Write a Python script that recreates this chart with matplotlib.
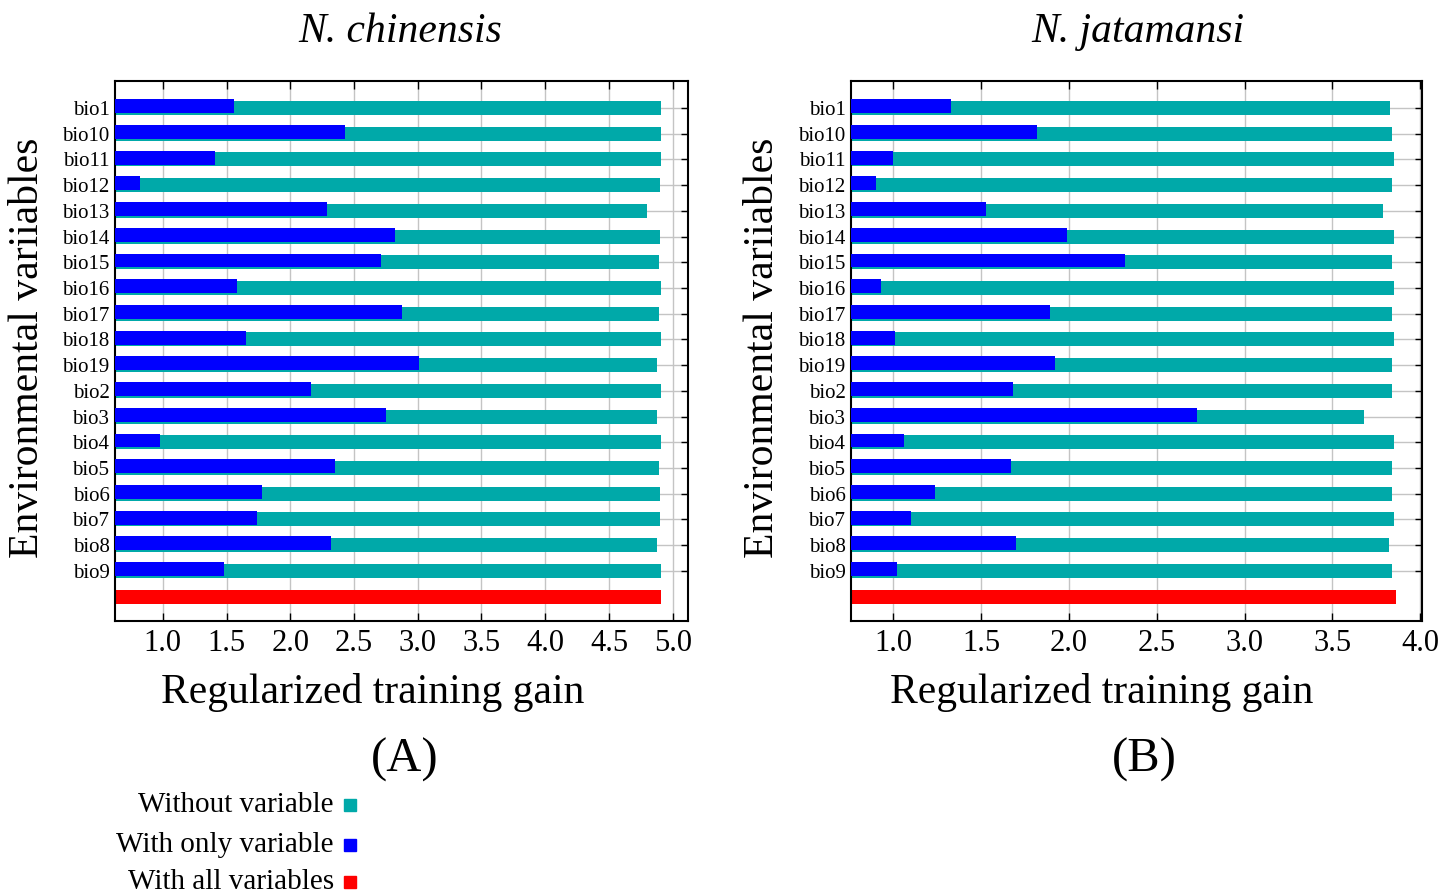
import matplotlib
matplotlib.use("Agg")
import matplotlib.pyplot as plt
from matplotlib.patches import Rectangle

plt.rcParams['font.family'] = ['Liberation Serif', 'DejaVu Serif']

# variables, top to bottom
variables = ["bio1", "bio10", "bio11", "bio12", "bio13", "bio14", "bio15", "bio16",
             "bio17", "bio18", "bio19", "bio2", "bio3", "bio4", "bio5", "bio6",
             "bio7", "bio8", "bio9"]

# (A) N. chinensis
chin_without = [4.91, 4.91, 4.91, 4.90, 4.80, 4.90, 4.89, 4.91, 4.89, 4.91,
                4.88, 4.91, 4.88, 4.91, 4.89, 4.90, 4.90, 4.88, 4.91]
chin_only = [1.56, 2.43, 1.41, 0.82, 2.29, 2.82, 2.71, 1.58, 2.88, 1.65,
             3.01, 2.16, 2.75, 0.98, 2.35, 1.78, 1.74, 2.32, 1.48]
chin_all = 4.91

# (B) N. jatamansi
jata_without = [3.83, 3.84, 3.85, 3.84, 3.79, 3.85, 3.84, 3.85, 3.84, 3.85,
                3.84, 3.84, 3.68, 3.85, 3.84, 3.84, 3.85, 3.82, 3.84]
jata_only = [1.33, 1.82, 1.00, 0.90, 1.53, 1.99, 2.32, 0.93, 1.89, 1.01,
             1.92, 1.68, 2.73, 1.06, 1.67, 1.24, 1.10, 1.70, 1.02]
jata_all = 3.86

TEAL = "#00a9a9"
BLUE = "#0000ff"
RED = "#ff0000"

W, H = 1456, 894
fig = plt.figure(figsize=(W / 100, H / 100), dpi=100)


def draw_panel(rect, without, only, allv, xlim, xticks, title, letter, ylab_x,
               title_x, xlab_x, letter_x):
    ax = fig.add_axes(rect)
    n = len(variables)
    ys = list(range(n))
    ax.barh(ys, without, height=0.54, color=TEAL, zorder=2)
    ax.barh([y - 0.07 for y in ys], only, height=0.54, color=BLUE, zorder=3)
    ax.barh([n], [allv], height=0.54, color=RED, zorder=2)
    ax.set_yticks(ys)
    ax.set_yticklabels(variables, fontsize=15)
    ax.set_ylim(n + 0.95, -1.05)
    ax.set_xlim(*xlim)
    ax.set_xticks(xticks)
    ax.set_xticklabels([f"{t:.1f}" for t in xticks], fontsize=22)
    ax.grid(True, color="#c4c4c4", lw=1, zorder=0)
    ax.set_axisbelow(True)
    ax.tick_params(direction="in", top=True, right=True, length=6, width=1, pad=6)
    ax.tick_params(axis="y", pad=4, length=5)
    for s in ax.spines.values():
        s.set_linewidth(1.5)
    fig.text(title_x / W, 1 - 32 / H, title, ha="center", va="center", fontsize=30,
             style="italic")
    fig.text(xlab_x / W, 1 - 692 / H, "Regularized training gain", ha="center",
             va="center", fontsize=30)
    fig.text(letter_x / W, 1 - 760 / H, letter, ha="center", va="center", fontsize=35)
    fig.text(ylab_x / W, 1 - 348 / H, "Environmental variiables", ha="center",
             va="center", rotation=90, fontsize=30)
    return ax


draw_panel([115 / W, 1 - 621 / H, 573 / W, 540 / H], chin_without, chin_only, chin_all,
           (0.625, 5.12), [1.0, 1.5, 2.0, 2.5, 3.0, 3.5, 4.0, 4.5, 5.0],
           "N. chinensis", "(A)", 28, 400, 373, 405)
draw_panel([851 / W, 1 - 621 / H, 571 / W, 540 / H], jata_without, jata_only, jata_all,
           (0.76, 4.01), [1.0, 1.5, 2.0, 2.5, 3.0, 3.5, 4.0],
           "N. jatamansi", "(B)", 763, 1138, 1102, 1144)

# legend
legend_items = [("Without variable", TEAL, 805), ("With only variable", BLUE, 845),
                ("With all variables", RED, 882)]
for label, col, ypx in legend_items:
    fig.text(334 / W, 1 - ypx / H, label, ha="right", va="center", fontsize=21)
    fig.add_artist(Rectangle((344 / W, 1 - (ypx + 6) / H), 12 / W, 12 / H,
                             transform=fig.transFigure, color=col))

fig.savefig("out.png", dpi=100)
